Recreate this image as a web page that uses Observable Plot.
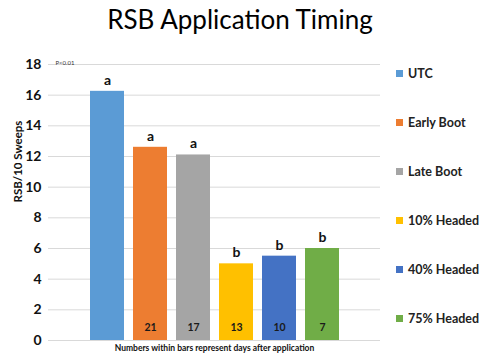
<!DOCTYPE html>
<html>
<head>
<meta charset="utf-8">
<script src="https://cdn.jsdelivr.net/npm/d3@7"></script>
<script src="https://cdn.jsdelivr.net/npm/@observablehq/plot@0.6"></script>
<style>
  html, body { margin: 0; padding: 0; background: #fff; }
  #wrap { position: relative; width: 480px; height: 360px; font-family: Lato, "Open Sans", sans-serif; overflow: hidden; }
  #title { height: 50px; line-height: 38px; text-align: center; font-size: 26px; color: #000; padding-left: 0; }
  #legend { position: absolute; left: 396px; top: 66px; }
  .item { height: 49px; display: flex; align-items: flex-start; font-weight: bold; font-size: 12.5px; color: #222; }
  .sw { width: 7px; height: 7px; margin-right: 5px; margin-top: 4px; }
  svg { display: block; }
</style>
</head>
<body>
<div id="wrap">
  <div id="title">RSB Application Timing</div>
  <div id="chart"></div>
  <div id="legend"></div>
</div>
<script>
const categories = ["UTC", "Early Boot", "Late Boot", "10% Headed", "40% Headed", "75% Headed"];
const values = [16.25, 12.6, 12.1, 5.0, 5.5, 6.0];
const letters = ["a", "a", "a", "b", "b", "b"];
const days = ["", "21", "17", "13", "10", "7"];
const colors = ["#5b9bd5", "#ed7d31", "#a5a5a5", "#ffc000", "#4472c4", "#70ad47"];
const yTicks = [0, 2, 4, 6, 8, 10, 12, 14, 16, 18];
const yLabel = "RSB/10 Sweeps";
const caption = "Numbers within bars represent days after application";
const note = "P<0.01";

const data = categories.map((c, i) => ({cat: c, value: values[i], letter: letters[i], day: days[i]}));

const chart = Plot.plot({
  width: 480,
  height: 310,
  marginLeft: 48,
  marginRight: 100,
  marginTop: 14,
  marginBottom: 20,
  style: {fontFamily: "Lato, 'Open Sans', sans-serif", background: "#fff"},
  x: {type: "band", domain: categories, paddingInner: 0.21, paddingOuter: 0.9, axis: null},
  y: {domain: [0, 18], axis: null},
  color: {domain: categories, range: colors},
  marks: [
    Plot.gridY(yTicks, {stroke: "#d9d9d9", strokeOpacity: 1}),
    Plot.axisY(yTicks, {tickSize: 0, tickPadding: 7, fontSize: 14, fontWeight: "bold", fill: "#111", label: null}),
    Plot.barY(data, {x: "cat", y: "value", fill: "cat"}),
    Plot.text(data, {x: "cat", y: "value", text: "letter", dy: -11, fontSize: 14, fontWeight: "bold", fill: "#111"}),
    Plot.text(data, {x: "cat", y: () => 0, text: "day", dy: -13, fontSize: 10.5, fontWeight: "bold", fill: "#1a1a1a"}),
    Plot.text([yLabel], {frameAnchor: "left", dx: -30, rotate: -90, fontSize: 11.5, fontWeight: "bold", fill: "#111"}),
    Plot.text([caption], {frameAnchor: "bottom", dy: 10, fontSize: 8.5, fontWeight: "bold", fill: "#111"}),
    Plot.text([note], {frameAnchor: "top-left", dx: 7, dy: -4, textAnchor: "start", fontSize: 6, fill: "#333"})
  ]
});
document.getElementById("chart").appendChild(chart);

const legend = document.getElementById("legend");
categories.forEach((c, i) => {
  const item = document.createElement("div");
  item.className = "item";
  const sw = document.createElement("div");
  sw.className = "sw";
  sw.style.background = colors[i];
  const t = document.createElement("span");
  t.textContent = c;
  item.appendChild(sw);
  item.appendChild(t);
  legend.appendChild(item);
});
</script>
</body>
</html>
